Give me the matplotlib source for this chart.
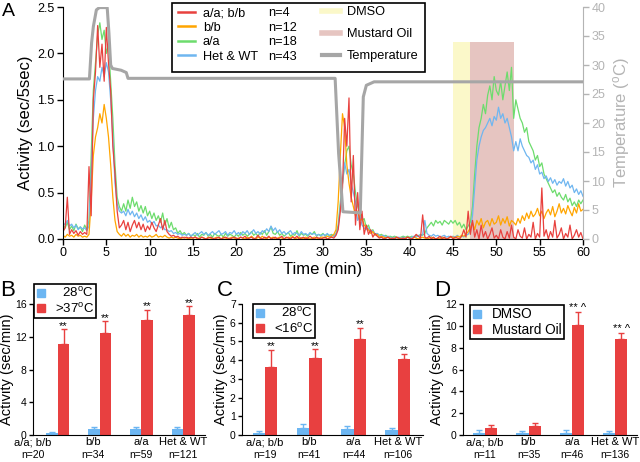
import numpy as np
import matplotlib
matplotlib.use('Agg')
import matplotlib.pyplot as plt
from matplotlib.lines import Line2D
from matplotlib.patches import Rectangle

plt.rcParams['font.family'] = ['Liberation Sans', 'DejaVu Sans']
plt.rcParams['mathtext.fontset'] = 'custom'
plt.rcParams['mathtext.rm'] = 'Liberation Sans'
plt.rcParams['mathtext.it'] = 'Liberation Sans:italic'
plt.rcParams['mathtext.bf'] = 'Liberation Sans:bold'

# ---------------- Panel A data (activity, sec/5sec, sampled every 0.25 min) ----------------
t_start, t_step = 0.0, 0.25

act_aabb = [
    0.08, 0.12, 0.45, 0.05, 0.10, 0.06, 0.09, 0.04, 0.08, 0.05, 0.07, 0.05, 0.78, 0.25, 1.50, 1.80, 2.30, 1.85, 2.10, 1.70,
    2.28, 1.90, 1.60, 1.00, 0.70, 0.30, 0.12, 0.15, 0.20, 0.10, 0.18, 0.08, 0.15, 0.20, 0.12, 0.18, 0.10, 0.16, 0.08, 0.14,
    0.10, 0.18, 0.12, 0.08, 0.15, 0.22, 0.10, 0.20, 0.08, 0.05, 0.03, 0.04, 0.02, 0.03, 0.01, 0.02, 0.01, 0.02, 0.01, 0.02,
    0.01, 0.02, 0.01, 0.00, 0.02, 0.01, 0.00, 0.01, 0.02, 0.01, 0.00, 0.01, 0.02, 0.00, 0.01, 0.02, 0.01, 0.00, 0.01, 0.02,
    0.01, 0.00, 0.02, 0.01, 0.03, 0.00, 0.01, 0.02, 0.00, 0.01, 0.04, 0.01, 0.00, 0.02, 0.01, 0.03, 0.00, 0.01, 0.02, 0.00,
    0.01, 0.03, 0.00, 0.02, 0.01, 0.00, 0.02, 0.01, 0.03, 0.00, 0.01, 0.02, 0.00, 0.01, 0.03, 0.01, 0.00, 0.02, 0.01, 0.00,
    0.01, 0.02, 0.00, 0.01, 0.02, 0.01, 0.04, 0.10, 0.30, 0.55, 1.30, 1.00, 1.52, 0.40, 0.90, 0.15, 0.50, 0.10, 0.30, 0.05,
    0.15, 0.05, 0.10, 0.02, 0.06, 0.03, 0.01, 0.02, 0.00, 0.01, 0.02, 0.00, 0.01, 0.00, 0.02, 0.01, 0.00, 0.01, 0.00, 0.02,
    0.01, 0.00, 0.02, 0.05, 0.03, 0.01, 0.26, 0.02, 0.01, 0.03, 0.00, 0.02, 0.00, 0.01, 0.03, 0.00, 0.02, 0.00, 0.01, 0.03,
    0.00, 0.02, 0.01, 0.00, 0.03, 0.10, 0.02, 0.30, 0.05, 0.20, 0.02, 0.10, 0.00, 0.15, 0.02, 0.08, 0.00, 0.05, 0.12, 0.01,
    0.04, 0.00, 0.10, 0.02, 0.00, 0.08, 0.01, 0.15, 0.02, 0.00, 0.10, 0.03, 0.01, 0.12, 0.00, 0.05, 0.02, 0.18, 0.00, 0.06,
    0.02, 0.55, 0.03, 0.10, 0.00, 0.08, 0.02, 0.20, 0.01, 0.05, 0.12, 0.00, 0.06, 0.02, 0.15, 0.00, 0.04, 0.10, 0.02, 0.07,
    0.00,
]
act_bb = [
    0.04, 0.02, 0.05, 0.03, 0.04, 0.02, 0.05, 0.03, 0.04, 0.02, 0.03, 0.02, 0.05, 0.40, 0.90, 1.10, 1.20, 1.35, 1.25, 1.45,
    1.30, 1.10, 0.80, 0.45, 0.20, 0.08, 0.05, 0.03, 0.06, 0.03, 0.05, 0.02, 0.04, 0.03, 0.05, 0.02, 0.04, 0.02, 0.03, 0.02,
    0.04, 0.02, 0.03, 0.05, 0.02, 0.03, 0.02, 0.04, 0.02, 0.01, 0.02, 0.01, 0.02, 0.01, 0.00, 0.01, 0.02, 0.01, 0.00, 0.01,
    0.01, 0.02, 0.00, 0.01, 0.02, 0.01, 0.00, 0.02, 0.01, 0.00, 0.01, 0.02, 0.01, 0.00, 0.02, 0.01, 0.00, 0.01, 0.02, 0.01,
    0.00, 0.01, 0.02, 0.01, 0.00, 0.02, 0.01, 0.03, 0.01, 0.00, 0.02, 0.01, 0.03, 0.01, 0.00, 0.02, 0.01, 0.02, 0.00, 0.01,
    0.02, 0.01, 0.00, 0.01, 0.02, 0.01, 0.03, 0.00, 0.01, 0.02, 0.01, 0.00, 0.02, 0.01, 0.00, 0.01, 0.02, 0.01, 0.00, 0.02,
    0.02, 0.01, 0.03, 0.02, 0.03, 0.05, 0.10, 0.40, 0.90, 1.35, 1.20, 0.80, 0.60, 0.45, 0.35, 0.25, 0.30, 0.20, 0.22, 0.15,
    0.12, 0.10, 0.06, 0.08, 0.04, 0.05, 0.02, 0.03, 0.02, 0.01, 0.02, 0.01, 0.00, 0.01, 0.02, 0.00, 0.01, 0.00, 0.01, 0.02,
    0.01, 0.00, 0.02, 0.01, 0.00, 0.01, 0.02, 0.01, 0.00, 0.01, 0.02, 0.01, 0.00, 0.01, 0.00, 0.02, 0.01, 0.00, 0.01, 0.02,
    0.02, 0.01, 0.03, 0.02, 0.04, 0.03, 0.05, 0.08, 0.12, 0.18, 0.10, 0.20, 0.15, 0.22, 0.12, 0.18, 0.20, 0.14, 0.22, 0.16,
    0.18, 0.25, 0.15, 0.22, 0.17, 0.24, 0.14, 0.20, 0.18, 0.15, 0.22, 0.17, 0.25, 0.20, 0.28, 0.22, 0.30, 0.24, 0.27, 0.33,
    0.25, 0.30, 0.22, 0.28, 0.32, 0.26, 0.35, 0.24, 0.30, 0.38, 0.28, 0.33, 0.27, 0.36, 0.30, 0.25, 0.34, 0.28, 0.38, 0.30,
    0.32,
]
act_aa = [
    0.15, 0.12, 0.18, 0.10, 0.14, 0.09, 0.16, 0.11, 0.13, 0.08, 0.15, 0.10, 0.20, 0.90, 1.60, 1.90, 2.20, 2.33, 2.15, 2.25,
    2.00, 2.10, 1.70, 1.30, 0.80, 0.45, 0.35, 0.30, 0.38, 0.30, 0.42, 0.33, 0.45, 0.35, 0.40, 0.30, 0.36, 0.28, 0.35, 0.25,
    0.30, 0.22, 0.28, 0.20, 0.25, 0.18, 0.28, 0.15, 0.22, 0.12, 0.18, 0.10, 0.12, 0.06, 0.09, 0.05, 0.07, 0.04, 0.06, 0.03,
    0.05, 0.03, 0.06, 0.02, 0.05, 0.04, 0.07, 0.03, 0.05, 0.02, 0.06, 0.04, 0.03, 0.05, 0.02, 0.06, 0.03, 0.05, 0.04, 0.02,
    0.05, 0.03, 0.07, 0.04, 0.06, 0.03, 0.05, 0.08, 0.04, 0.06, 0.03, 0.07, 0.05, 0.09, 0.04, 0.08, 0.13, 0.06, 0.05, 0.08,
    0.04, 0.06, 0.03, 0.05, 0.07, 0.03, 0.05, 0.04, 0.09, 0.03, 0.06, 0.04, 0.05, 0.03, 0.06, 0.05, 0.08, 0.03, 0.05, 0.04,
    0.06, 0.03, 0.05, 0.04, 0.05, 0.03, 0.06, 0.15, 0.40, 0.60, 0.80, 0.95, 1.00, 0.80, 0.70, 0.50, 0.35, 0.28, 0.20, 0.22,
    0.12, 0.15, 0.08, 0.10, 0.05, 0.06, 0.04, 0.05, 0.03, 0.04, 0.02, 0.03, 0.02, 0.03, 0.02, 0.01, 0.02, 0.03, 0.02, 0.03,
    0.02, 0.03, 0.02, 0.04, 0.03, 0.05, 0.04, 0.06, 0.12, 0.15, 0.18, 0.14, 0.20, 0.17, 0.19, 0.15, 0.20, 0.18, 0.16, 0.20,
    0.17, 0.20, 0.15, 0.18, 0.12, 0.16, 0.10, 0.14, 0.18, 0.35, 0.70, 1.00, 1.20, 1.30, 1.45, 1.35, 1.55, 1.65, 1.50, 1.75,
    1.60, 1.55, 1.70, 1.50, 1.65, 1.80, 1.60, 1.85, 1.30, 1.50, 1.40, 1.30, 1.25, 1.15, 1.20, 1.05, 1.00, 0.95, 0.85, 0.90,
    0.78, 0.82, 0.70, 0.65, 0.60, 0.55, 0.50, 0.53, 0.46, 0.50, 0.45, 0.42, 0.48, 0.40, 0.44, 0.36, 0.40, 0.35, 0.42, 0.38,
    0.42,
]
act_hetwt = [
    0.18, 0.15, 0.20, 0.14, 0.16, 0.12, 0.15, 0.10, 0.13, 0.11, 0.12, 0.09, 0.14, 0.70, 1.30, 1.60, 1.75, 1.70, 1.85, 1.75,
    1.90, 1.80, 1.50, 1.10, 0.60, 0.38, 0.30, 0.28, 0.30, 0.25, 0.32, 0.26, 0.30, 0.24, 0.28, 0.22, 0.26, 0.20, 0.24, 0.18,
    0.20, 0.16, 0.19, 0.14, 0.15, 0.12, 0.14, 0.10, 0.10, 0.08, 0.09, 0.06, 0.07, 0.05, 0.06, 0.04, 0.05, 0.04, 0.06, 0.03,
    0.05, 0.07, 0.04, 0.06, 0.08, 0.05, 0.07, 0.04, 0.06, 0.08, 0.05, 0.07, 0.09, 0.05, 0.06, 0.08, 0.04, 0.07, 0.06, 0.09,
    0.05, 0.07, 0.04, 0.08, 0.06, 0.09, 0.05, 0.07, 0.10, 0.06, 0.08, 0.05, 0.09, 0.07, 0.11, 0.08, 0.14, 0.09, 0.12, 0.07,
    0.10, 0.06, 0.08, 0.05, 0.07, 0.09, 0.05, 0.07, 0.06, 0.04, 0.08, 0.05, 0.06, 0.04, 0.07, 0.05, 0.06, 0.04, 0.05, 0.03,
    0.05, 0.04, 0.06, 0.03, 0.04, 0.03, 0.05, 0.12, 0.35, 0.60, 0.82, 0.70, 0.75, 0.60, 0.50, 0.40, 0.20, 0.25, 0.15, 0.12,
    0.10, 0.12, 0.07, 0.09, 0.05, 0.06, 0.04, 0.03, 0.04, 0.02, 0.03, 0.02, 0.01, 0.02, 0.01, 0.02, 0.01, 0.02, 0.01, 0.02,
    0.01, 0.02, 0.03, 0.02, 0.04, 0.03, 0.05, 0.20, 0.06, 0.04, 0.03, 0.05, 0.03, 0.04, 0.02, 0.03, 0.04, 0.02, 0.03, 0.02,
    0.03, 0.02, 0.04, 0.02, 0.03, 0.02, 0.04, 0.05, 0.10, 0.25, 0.55, 0.85, 1.00, 1.10, 1.17, 1.20, 1.25, 1.30, 1.22, 1.32,
    1.28, 1.42, 1.30, 1.35, 1.25, 1.30, 1.20, 1.10, 0.95, 1.05, 0.95, 1.08, 1.00, 0.95, 0.90, 0.88, 0.82, 0.85, 0.75, 0.80,
    0.70, 0.72, 0.65, 0.68, 0.62, 0.66, 0.60, 0.64, 0.58, 0.62, 0.60, 0.65, 0.57, 0.62, 0.55, 0.58, 0.50, 0.54, 0.48, 0.52,
    0.46,
]

geno_labels = ['a/a; b/b', 'b/b', 'a/a', 'Het & WT']
geno_n_A = [4, 12, 18, 43]

temp_time = [0, 3.05, 3.3, 3.5, 3.85, 4.2, 5.1, 5.3, 5.5, 5.7, 6.7, 7.3, 7.5,
             31.4, 31.8, 32.3, 34.3, 34.65, 35.0, 35.9, 60]
temp_val = [27.6, 27.6, 33.8, 36.6, 39.5, 39.9, 39.9, 35.5, 30.0, 29.4, 29.1, 28.7, 27.7,
            27.7, 14.8, 4.7, 4.5, 24.5, 26.5, 27.1, 27.1]

dmso_period = (45.0, 47.0)
mo_period = (47.0, 52.0)
shade_top = 2.12

# ---------------- Panels B-D data ----------------
heat_n = [20, 34, 59, 121]
heat_28 = [0.2, 0.7, 0.7, 0.7]
heat_28_err = [0.15, 0.3, 0.3, 0.25]
heat_37 = [11.1, 12.5, 14.1, 14.7]
heat_37_err = [1.8, 1.4, 1.2, 1.0]
heat_sig = ['**', '**', '**', '**']

cold_n = [19, 41, 44, 106]
cold_28 = [0.13, 0.4, 0.3, 0.25]
cold_28_err = [0.1, 0.2, 0.16, 0.1]
cold_16 = [3.65, 4.1, 5.15, 4.05]
cold_16_err = [0.9, 0.47, 0.58, 0.3]
cold_sig = ['**', '**', '**', '**']

mo_n = [11, 35, 46, 136]
dmso_vals = [0.22, 0.2, 0.22, 0.16]
dmso_err = [0.24, 0.16, 0.26, 0.2]
mo_vals = [0.6, 0.78, 10.1, 8.75]
mo_err = [0.32, 0.3, 1.2, 0.6]
mo_sig = ['', '', '** ^', '** ^']

# ---------------- styles ----------------
RED = '#e8413e'
ORANGE = '#ffa500'
GREEN = '#6ddc6d'
BLUE = '#6fb6f0'
GREY = '#a6a6a6'
LGREY = '#b4b4b4'
YELLOW = '#fbf8c9'
PINK = '#e6c5c1'
BAR_BLUE = '#6cb6f2'
BAR_RED = '#e84040'

W, H = 640, 462
fig = plt.figure(figsize=(W / 100, H / 100), dpi=100)


def fax(x0, y0, x1, y1):
    return fig.add_axes([x0 / W, 1 - y1 / H, (x1 - x0) / W, (y1 - y0) / H])


# ================= Panel A =================
axA = fax(63, 7, 583, 239)
minutes = t_start + t_step * np.arange(len(act_aa))
axA.axvspan(*dmso_period, ymin=0, ymax=shade_top / 2.5, color=YELLOW, lw=0, zorder=0)
axA.axvspan(*mo_period, ymin=0, ymax=shade_top / 2.5, color=PINK, lw=0, zorder=0)
series = [(act_aa, GREEN), (act_hetwt, BLUE), (act_bb, ORANGE), (act_aabb, RED)]
for vals, c in series:
    axA.plot(minutes, vals, color=c, lw=0.9, zorder=2)
axA.set_xlim(0, 60)
axA.set_ylim(0, 2.5)
axA.set_xticks(np.arange(0, 61, 5))
axA.set_yticks([0, 0.5, 1.0, 1.5, 2.0, 2.5])
axA.set_yticklabels(['0.0', '0.5', '1.0', '1.5', '2.0', '2.5'])
for s in ['top', 'right']:
    axA.spines[s].set_visible(False)
axA.tick_params(direction='out', length=4, width=1, labelsize=9, pad=2)
axA.set_xlabel('Time (min)', fontsize=12, labelpad=2)
axA.set_ylabel('Activity (sec/5sec)', fontsize=12, labelpad=3)

axT = axA.twinx()
axT.plot(temp_time, temp_val, color=GREY, lw=2.2, zorder=3)
axT.set_ylim(0, 40)
axT.set_yticks(np.arange(0, 41, 5))
for s in ['top', 'left', 'bottom']:
    axT.spines[s].set_visible(False)
axT.spines['right'].set_color(LGREY)
axT.tick_params(axis='y', direction='out', length=4, width=1, colors=LGREY, labelsize=9, pad=2)
axT.set_ylabel('Temperature ($^{\\rm o}$C)', fontsize=12, color=LGREY, labelpad=4)

# legend frame + two legends
frame = Rectangle((172 / W, 1 - 72 / H), 253 / W, 69 / H, transform=fig.transFigure,
                  facecolor='white', edgecolor='black', lw=1.2, zorder=4.9, clip_on=False)
axT.add_artist(frame)
geno_colors = [RED, ORANGE, GREEN, BLUE]
h1 = [Line2D([], [], color=c, lw=1.8) for c in geno_colors]
leg1 = axT.legend(h1, geno_labels, loc='upper left', bbox_to_anchor=(178 / W, 1 - 7 / H),
                  bbox_transform=fig.transFigure, frameon=False, fontsize=9.2,
                  handlelength=1.33, handletextpad=0.6, labelspacing=0.2,
                  borderpad=0, borderaxespad=0)
axT.add_artist(leg1)
for txt, n in zip(leg1.get_texts(), geno_n_A):
    axT.annotate(f'n={n}', xy=(0, 0.5), xycoords=txt, xytext=(46.8, 0),
                 textcoords='offset points', va='center', ha='left', fontsize=9.2,
                 annotation_clip=False, zorder=6)
h2 = [Line2D([], [], color=YELLOW, lw=4), Line2D([], [], color=PINK, lw=4),
      Line2D([], [], color=GREY, lw=3)]
leg2 = axT.legend(h2, ['DMSO', 'Mustard Oil', 'Temperature'], loc='upper left',
                  bbox_to_anchor=(322 / W, 1 - 6 / H), bbox_transform=fig.transFigure,
                  frameon=False, fontsize=9.2, handlelength=1.4, handletextpad=0.55,
                  labelspacing=0.8, borderpad=0, borderaxespad=0)


# ================= Panels B-D =================
def bar_panel(ax, ctrl, ctrl_err, trt, trt_err, ns, sig, yticks, ylim, xlim,
              leg_labels, leg_anchor, leg_size, label_shift):
    x = np.arange(len(geno_labels))
    bw = 0.28
    zeros = [0] * len(ctrl)
    ax.bar(x - bw / 2, ctrl, bw, color=BAR_BLUE, yerr=[zeros, ctrl_err],
           error_kw=dict(ecolor=BAR_BLUE, capsize=2.2, elinewidth=1, capthick=1))
    ax.bar(x + bw / 2, trt, bw, color=BAR_RED, yerr=[zeros, trt_err],
           error_kw=dict(ecolor=BAR_RED, capsize=2.2, elinewidth=1, capthick=1))
    for xi, v, e, s in zip(x, trt, trt_err, sig):
        if s:
            ax.annotate(s, xy=(xi + bw / 2, v + e), xytext=(0, -1), textcoords='offset points',
                        ha='center', va='bottom', fontsize=8)
    ax.set_ylim(*ylim)
    ax.set_xlim(*xlim)
    ax.set_yticks(yticks)
    xt = x + np.array(label_shift)
    ax.set_xticks(xt)
    ax.set_xticklabels(geno_labels, fontsize=8)
    for xi, n in zip(xt, ns):
        ax.annotate(f'n={n}', xy=(xi, 0), xycoords=('data', 'axes fraction'),
                    xytext=(0, -11.0), textcoords='offset points', ha='center', va='top',
                    fontsize=7.5, annotation_clip=False)
    for s in ['top', 'right']:
        ax.spines[s].set_visible(False)
    ax.tick_params(axis='y', direction='out', length=3, width=1, labelsize=7.5, pad=1.5)
    ax.tick_params(axis='x', length=0, pad=1.5)
    ax.set_ylabel('Activity (sec/min)', fontsize=10.5, labelpad=1)
    hh = [Line2D([], [], marker='s', ls='none', color=BAR_BLUE, markersize=6),
          Line2D([], [], marker='s', ls='none', color=BAR_RED, markersize=6)]
    lg = ax.legend(hh, leg_labels, loc='upper left', bbox_to_anchor=(leg_anchor[0] / W, 1 - leg_anchor[1] / H),
                   bbox_transform=fig.transFigure, fontsize=leg_size, handlelength=0.7,
                   handletextpad=0.7, labelspacing=0.1, borderpad=0.18, borderaxespad=0,
                   fancybox=False, framealpha=1, edgecolor='black')
    lg.get_frame().set_linewidth(1.2)


axB = fax(33, 304, 205, 435)
bar_panel(axB, heat_28, heat_28_err, heat_37, heat_37_err, heat_n, heat_sig,
          [0, 4, 8, 12, 16], (0, 16), (-0.39, 3.52),
          ['  28$^{\\rm o}$C', '>37$^{\\rm o}$C'], (34, 284), 9.5, [-0.59, -0.16, 0, 0])
axC = fax(242, 304, 423, 435)
bar_panel(axC, cold_28, cold_28_err, cold_16, cold_16_err, cold_n, cold_sig,
          list(range(0, 8)), (0, 7), (-0.52, 3.57),
          ['  28$^{\\rm o}$C', '<16$^{\\rm o}$C'], (253, 304), 9.5, [0, 0, 0, 0])
axD = fax(463, 304, 637, 435)
bar_panel(axD, dmso_vals, dmso_err, mo_vals, mo_err, mo_n, mo_sig,
          [0, 2, 4, 6, 8, 10, 12], (0, 12), (-0.51, 3.5),
          ['DMSO', 'Mustard Oil'], (470, 305), 9.8, [0, 0, 0, 0])

# panel letters
fig.text(2 / W, 1 - 11 / H, 'A', fontsize=14, va='center', ha='left')
fig.text(0 / W, 1 - 290 / H, 'B', fontsize=16, va='center', ha='left')
fig.text(217 / W, 1 - 290 / H, 'C', fontsize=16, va='center', ha='left')
fig.text(434 / W, 1 - 290 / H, 'D', fontsize=16, va='center', ha='left')

fig.savefig('out.png', dpi=100)
